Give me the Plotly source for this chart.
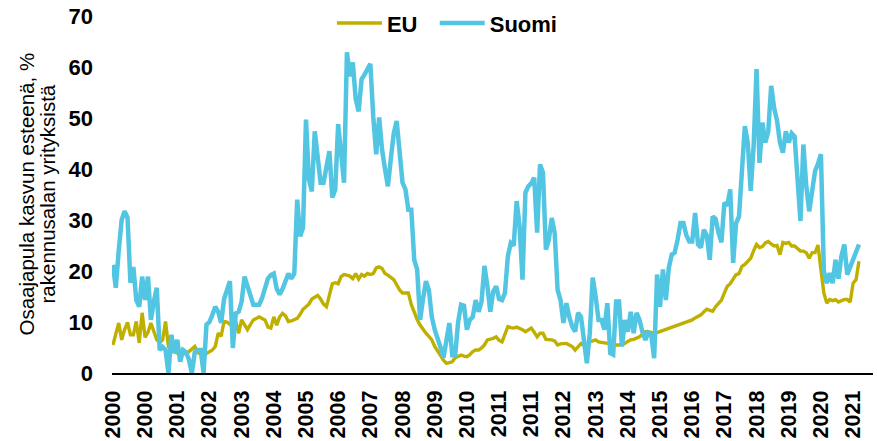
import plotly.graph_objects as go

# Monthly categories Jan 2000 .. Apr 2021
months = [f"{2000 + i // 12}-{i % 12 + 1:02d}" for i in range(256)]

tick_labels = ["2000", "2000", "2001", "2002", "2003", "2004", "2005", "2006",
               "2007", "2008", "2009", "2010", "2011", "2011", "2012", "2013",
               "2014", "2015", "2016", "2017", "2018", "2019", "2020", "2021"]

eu = [
    5.5, 8, 9.8, 6.5, 8.5, 9.9, 7.5, 7.5, 10.1, 5.9,
    11.8, 7, 8, 9.8, 8, 6.5, 6, 6.5, 10.1, 5.1,
    4.5, 4.1, 3.9, 3.7, 3.7, 3.8, 4.2, 4.8, 5.2, 4,
    3.7, 3.5, 3.8, 4.1, 4.5, 5.2, 7.8, 7.2, 10.1, 10,
    9.5, 9.1, 10.1, 7.8, 10.4, 9.4, 8.5, 9.5, 10.4, 10.7,
    11, 10.7, 10.4, 9, 8.8, 11, 9.4, 11, 11.7, 11.2,
    10.1, 10.2, 10.4, 10.7, 11.5, 12.5, 13, 13.5, 14.5, 14.8,
    15.2, 14.5, 13.5, 13, 15.5, 17.5, 17.7, 17.5, 18.9, 19.3,
    19.2, 19, 18.5, 19.5, 18.4, 19.3, 19, 19.5, 19.3, 19.5,
    20.6, 20.8, 20.5, 19.5, 19.2, 18.7, 18.3, 17.3, 16.3, 15.7,
    15.7, 15.7, 13.4, 11.8, 10.5, 9.4, 8.5, 7.8, 7.2, 6.5,
    5.2, 4.2, 3.5, 2.5, 1.9, 2.1, 2.2, 3, 3.2, 3.5,
    3.3, 3.2, 3.6, 4.2, 4.5, 4.5, 4.9, 5.5, 6.5, 6.6,
    6.8, 7.1, 6.4, 6.1, 7.8, 9.1, 8.9, 8.8, 9, 8.8,
    8.5, 8.1, 8.4, 8.8, 8, 7.1, 7.8, 7.8, 6.6, 6.6,
    6.5, 6.3, 5.5, 5.7, 5.8, 5.8, 5.5, 5.2, 4.5, 5.2,
    5.8, 5.4, 5.3, 6.1, 6.3, 6.5, 6.1, 6, 5.8, 5.8,
    5.8, 5.6, 5.5, 5.5, 5.6, 5.8, 6.2, 6.5, 6.6, 6.8,
    7.1, 7.6, 8.1, 8.1, 8, 7.8, 7.9, 8.1, 8.3, 8.5,
    8.8, 9, 9.2, 9.4, 9.6, 9.8, 9.9, 10.1, 10.4, 10.8,
    11.1, 11.4, 12, 12.5, 12.3, 12.1, 13, 13.6, 14.3, 15.7,
    17, 17.5, 18.3, 19.3, 19.5, 20.9, 21.3, 21.9, 22.5, 24,
    25.2, 24.6, 24.8, 25.5, 25.8, 25.3, 24.9, 25, 23.2, 25.6,
    25.4, 25.6, 24.9, 24.9, 24.4, 23.9, 23.9, 23.6, 22.5, 23.6,
    23.6, 25.1, 20.3, 15.7, 13.7, 14.4, 14.2, 14.4, 13.9, 14.2,
    14.4, 14.4, 13.9, 17.6, 18.3, 21.9,
]

suomi = [
    21.2, 16.7, 24, 30, 31.7, 30.5, 17.7, 20.8, 14.3, 13,
    18.9, 14.3, 18.9, 10.4, 14, 16.7, 4.5, 5.1, 4.5, 0,
    7.5, 3.9, 6.5, 2.2, 4.5, 4.1, 2.6, 0, 4.1, 4.5,
    4.5, 0, 9.5, 10, 11.4, 13, 12, 9.8, 14.5, 16,
    18, 4.9, 11.7, 12, 14, 18.9, 17, 15, 13.4, 13.4,
    13.4, 14.7, 17, 18.5, 19.2, 19.5, 16.5, 15.4, 16.5, 18,
    19.5, 18.5, 19.5, 34, 26.8, 28.5, 49.7, 38, 35.6, 47.4,
    42, 37.3, 37.3, 41, 43.5, 34.4, 35.9, 48.8, 42.2, 37.3,
    62.9, 58.2, 60.9, 53.7, 51.3, 57.6, 58.5, 59.5, 60.6, 50.2,
    42.9, 50.1, 43.8, 40, 36.6, 42, 47, 49.4, 42.5, 37.3,
    36, 32, 32, 22.2, 20.3, 10.4, 14.5, 18, 16.3, 11,
    8.5, 7, 5, 3, 6.5, 9.8, 3.5, 3.5, 10, 13.4,
    13.2, 8.5, 10.4, 11, 14.3, 12, 14, 21, 17, 12,
    16, 17, 14.5, 14.3, 15.7, 22.9, 25.5, 25, 33.7, 28.8,
    18.3, 35.4, 36.6, 37.2, 38.3, 27.5, 40.9, 39.3, 24.2, 26.1,
    30.4, 27.5, 16.3, 14.3, 9.8, 13.7, 11, 9.1, 8.1, 11.8,
    11, 6, 1.9, 7.8, 18.7, 15, 10.4, 10.4, 8.5, 13.7,
    3.9, 3.6, 14, 14, 5.2, 10.4, 8.1, 12, 7.8, 11.8,
    10.4, 8, 6.5, 7.9, 7.5, 2.9, 19.3, 13, 20.3, 14.3,
    20.6, 23.2, 23.6, 26.1, 29.4, 29.4, 27, 25.8, 25.8, 31.4,
    25.2, 24.6, 28.1, 27, 22.2, 30.7, 30.2, 27.5, 25.6, 33.4,
    32.8, 36, 21.6, 29.4, 30.7, 39.6, 48.4, 45.2, 35.7, 44.5,
    59.6, 41.2, 49.1, 45.2, 47.4, 56.3, 52, 49.5, 45.2, 43.2,
    47.4, 45.2, 47, 46.4, 36.6, 29.8, 44.8, 36.6, 31.7, 35.3,
    39.6, 41, 42.9, 20, 17.6, 19.6, 17.6, 22.2, 18.5, 22.9,
    25.2, 19.3, 20.9, 22.2, 23.9, 25.2,
]

y_ticks = [0, 10, 20, 30, 40, 50, 60, 70]
y_title_lines = ["Osaajapula kasvun esteenä, %", "rakennusalan yrityksistä"]

FONT = "Liberation Sans, Arial, sans-serif"
EU_COLOR = "#BFB000"
SUOMI_COLOR = "#52C5E2"

fig = go.Figure()
fig.add_trace(go.Scatter(x=months, y=eu, mode="lines", name="EU\u00a0\u00a0",
                         line=dict(color=EU_COLOR, width=3.4)))
fig.add_trace(go.Scatter(x=months, y=suomi, mode="lines", name="Suomi",
                         line=dict(color=SUOMI_COLOR, width=4.5)))

fig.update_layout(
    width=877, height=441,
    margin=dict(l=112, r=4, t=16, b=68, autoexpand=False),
    paper_bgcolor="white", plot_bgcolor="white",
    showlegend=True,
    legend=dict(orientation="h", x=0.289, xanchor="left", y=0.98, yanchor="middle",
                font=dict(family=FONT, size=22, color="black", weight="bold"),
                bgcolor="rgba(0,0,0,0)", itemwidth=45),
    xaxis=dict(type="category", range=[-0.3, 259.8],
               tickmode="array", tickvals=months[::11], ticktext=tick_labels,
               tickangle=-90, showgrid=False, zeroline=False,
               showline=True, linecolor="black", linewidth=2,
               ticks="", ticklabelstandoff=7,
               tickfont=dict(family=FONT, size=21.5, color="black", weight="bold")),
    yaxis=dict(range=[0, 70], tickmode="array", tickvals=y_ticks,
               showgrid=False, zeroline=False, showline=False,
               ticks="", ticklabelstandoff=18,
               tickfont=dict(family=FONT, size=22, color="black", weight="bold")),
    annotations=[
        dict(text=y_title_lines[0], xref="paper", yref="paper",
             x=(26 - 112) / 761, y=0.5, xanchor="center", yanchor="middle",
             textangle=-90, showarrow=False,
             font=dict(family=FONT, size=20.5, color="black")),
        dict(text=y_title_lines[1], xref="paper", yref="paper",
             x=(47 - 112) / 761, y=0.5, xanchor="center", yanchor="middle",
             textangle=-90, showarrow=False,
             font=dict(family=FONT, size=20.5, color="black")),
    ],
)

fig.write_html("out.html", config={"displayModeBar": False},
               post_script="document.body.style.margin='0';")
